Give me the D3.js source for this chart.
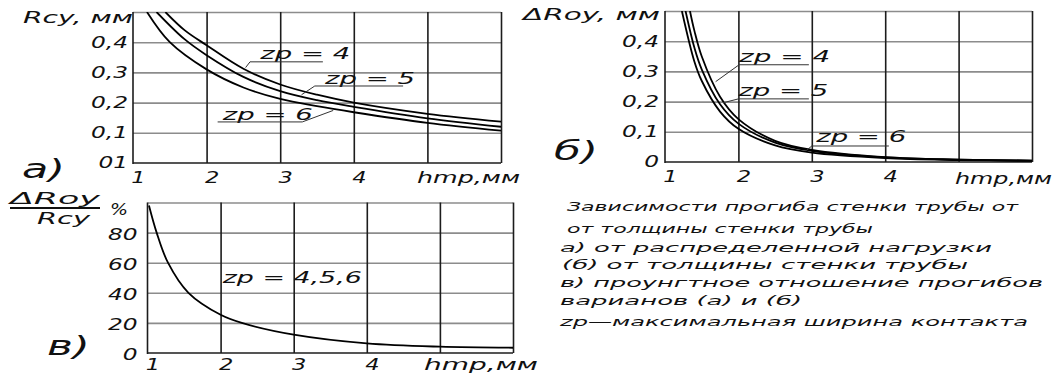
<!DOCTYPE html>
<html>
<head>
<meta charset="utf-8">
<script src="https://cdn.jsdelivr.net/npm/d3@7"></script>
<style>
  body { margin: 0; background: #fff; }
  svg text { font-family: "DejaVu Sans", sans-serif; font-style: italic; fill: #111; }
  .vgrid line, .frame { stroke: #1c1c1c; stroke-width: 1.6; }
  .hgrid line { stroke: #8c8c8c; stroke-width: 1.6; }
  .domain { display: none; }
  .curve { fill: none; stroke: #000; stroke-width: 1.8; }
  .lead { fill: none; stroke: #333; stroke-width: 1; }
</style>
</head>
<body>
<svg id="chart" width="1054" height="374"></svg>
<script>
// wall thickness ticks and labels
const hTicks = [1, 2, 3, 4]
const hGrid = [2, 3, 4, 5, 6]
const mmTicks = [0, 0.1, 0.2, 0.3, 0.4]
const mmLabels = ['01', '0,1', '0,2', '0,3', '0,4']
const mmLabelsB = ['0', '0,1', '0,2', '0,3', '0,4']
const mmGrid = [0.1, 0.2, 0.3, 0.4, 0.5]
const pctTicks = [0, 20, 40, 60, 80]
const pctGrid = [20, 40, 60, 80, 100]

// a) Rcy, mm
const hA4 = [1.44, 1.7, 2, 2.5, 3, 3.5, 4, 5, 6]
const rcy4 = [0.5, 0.44, 0.39, 0.312, 0.26, 0.226, 0.2, 0.163, 0.137]
const hA5 = [1.32, 1.7, 2, 2.5, 3, 3.5, 4, 5, 6]
const rcy5 = [0.5, 0.41, 0.357, 0.285, 0.238, 0.208, 0.186, 0.148, 0.12]
const hA6 = [1.19, 1.5, 2, 2.5, 3, 3.5, 4, 5, 6]
const rcy6 = [0.5, 0.4, 0.31, 0.25, 0.212, 0.188, 0.168, 0.133, 0.107]

// б) ΔRoy, mm
const hB4 = [1.34, 1.4, 1.5, 1.75, 2, 2.5, 3, 4, 5, 6]
const roy4 = [0.5, 0.435, 0.35, 0.216, 0.142, 0.07, 0.04, 0.016, 0.008, 0.0045]
const hB5 = [1.28, 1.4, 1.5, 1.75, 2, 2.5, 3, 4, 5, 6]
const roy5 = [0.5, 0.379, 0.307, 0.191, 0.127, 0.064, 0.037, 0.015, 0.0076, 0.0043]
const hB6 = [1.23, 1.4, 1.5, 1.75, 2, 2.5, 3, 4, 5, 6]
const roy6 = [0.5, 0.333, 0.269, 0.167, 0.11, 0.055, 0.031, 0.013, 0.0065, 0.0036]

// в) ΔRoy / Rcy, %
const hC = [1.02, 1.125, 1.28, 1.56, 2, 2.29, 3, 4, 5, 6]
const ratio = [98, 80, 60, 40, 25.4, 20, 12.2, 6.4, 4.2, 3.5]

const captionLines = [
    'Зависимости прогиба стенки трубы от',
    'от толщины стенки трубы',
    'а) от распределенной нагрузки',
    '(б) от толщины стенки трубы',
    'в) проунгтное отношение прогибов',
    'варианов (а) и (б)',
    'zp—максимальная ширина контакта'
]

const svg = d3.select('#chart')

// make text wide like the drafting font
function fit(sel, len) {
    sel.attr('textLength', len).attr('lengthAdjust', 'spacingAndGlyphs')
}
function stretch(sel, k) {
    sel.each(function () {
        const w = this.getComputedTextLength()
        d3.select(this).attr('textLength', w * k).attr('lengthAdjust', 'spacingAndGlyphs')
    })
}
function label(g, txt, x, y, size, len, anchor) {
    const t = g.append('text').attr('x', x).attr('y', y)
        .style('font-size', size + 'px').attr('text-anchor', anchor || 'start').text(txt)
    if (len) fit(t, len)
    return t
}

function panel(cfg) {
    const x = d3.scaleLinear().domain([1, 6]).range(cfg.xr)
    const y = d3.scaleLinear().domain(cfg.yd).range(cfg.yr)
    const w = cfg.xr[1] - cfg.xr[0], h = cfg.yr[0] - cfg.yr[1]
    const g = svg.append('g')

    g.append('g').attr('class', 'hgrid')
        .attr('transform', `translate(${cfg.xr[0]},0)`)
        .call(d3.axisLeft(y).tickValues(cfg.grid).tickSize(-w).tickFormat(''))

    g.append('g').attr('class', 'vgrid')
        .attr('transform', `translate(0,${cfg.yr[0]})`)
        .call(d3.axisBottom(x).tickValues(hGrid).tickSize(h).tickFormat(''))
        .selectAll('line').attr('y2', -h)

    g.append('line').attr('class', 'frame')
        .attr('x1', x(1)).attr('x2', x(1)).attr('y1', y(cfg.yd[0]) + 1).attr('y2', y(cfg.yd[1]))
    g.append('line').attr('class', 'frame')
        .attr('x1', x(1)).attr('x2', x(6)).attr('y1', y(cfg.yd[0])).attr('y2', y(cfg.yd[0]))

    const xa = g.append('g').attr('transform', `translate(0,${cfg.yr[0]})`)
        .call(d3.axisBottom(x).tickValues(hTicks).tickSize(0).tickPadding(cfg.padX).tickFormat(d3.format('d')))
    xa.selectAll('text').attr('dx', 5).style('font-size', '15px')
    stretch(xa.selectAll('text'), 1.5)

    const ya = g.append('g').attr('transform', `translate(${cfg.xr[0]},0)`)
        .call(d3.axisLeft(y).tickValues(cfg.ticks).tickSize(0).tickPadding(cfg.padY)
            .tickFormat((d, i) => cfg.tickText[i]))
    ya.selectAll('text').style('font-size', '15px').attr('dy', cfg.tickDy || '0.32em')
    stretch(ya.selectAll('text'), 1.55)

    const clipId = 'clip' + cfg.id
    svg.append('clipPath').attr('id', clipId)
        .append('rect').attr('x', cfg.xr[0]).attr('y', cfg.yr[1]).attr('width', w).attr('height', h)

    const line = d3.line().x(d => x(d[0])).y(d => y(d[1])).curve(d3.curveCatmullRom.alpha(0.5))
    g.append('g').attr('clip-path', `url(#${clipId})`)
        .selectAll('path').data(cfg.series).join('path')
        .attr('class', 'curve')
        .attr('d', s => line(d3.zip(s.h, s.v)))

    // zp labels with underline and leader
    cfg.notes.forEach(n => {
        label(g, n.text, x(n.tx), y(n.ty), 16, n.len)
        if (n.ux) {
            g.append('line').attr('class', 'lead')
                .attr('x1', x(n.ux[0])).attr('x2', x(n.ux[1]))
                .attr('y1', y(n.uy)).attr('y2', y(n.uy))
            g.append('line').attr('class', 'lead')
                .attr('x1', x(n.lf[0])).attr('y1', y(n.lf[1]))
                .attr('x2', x(n.lt[0])).attr('y2', y(n.lt[1]))
        }
    })
    return { x, y, g }
}

panel({
    id: 'a', xr: [133, 501], yr: [163, 12], yd: [0, 0.5],
    grid: mmGrid, ticks: mmTicks, tickText: mmLabels, padX: 9, padY: 5,
    series: [{ h: hA4, v: rcy4 }, { h: hA5, v: rcy5 }, { h: hA6, v: rcy6 }],
    notes: [
        { text: 'zp = 4', tx: 2.73, ty: 0.345, len: 90, ux: [2.59, 3.58], uy: 0.335, lf: [2.59, 0.335], lt: [2.53, 0.316] },
        { text: 'zp = 5', tx: 3.61, ty: 0.262, len: 90, ux: [3.47, 4.67], uy: 0.255, lf: [3.47, 0.255], lt: [3.29, 0.226] },
        { text: 'zp = 6', tx: 2.22, ty: 0.142, len: 90, ux: [2.15, 3.3], uy: 0.136, lf: [3.3, 0.136], lt: [3.72, 0.174] }
    ]
})

panel({
    id: 'b', xr: [665, 1032], yr: [162, 11], yd: [0, 0.5],
    grid: mmGrid, ticks: mmTicks, tickText: mmLabelsB, padX: 9, padY: 6,
    series: [{ h: hB4, v: roy4 }, { h: hB5, v: roy5 }, { h: hB6, v: roy6 }],
    notes: [
        { text: 'zp = 4', tx: 2.01, ty: 0.332, len: 91, ux: [2.01, 2.96], uy: 0.322, lf: [2.01, 0.322], lt: [1.69, 0.266] },
        { text: 'zp = 5', tx: 2.0, ty: 0.219, len: 90, ux: [2.0, 2.96], uy: 0.209, lf: [2.0, 0.209], lt: [1.79, 0.196] },
        { text: 'zp = 6', tx: 3.06, ty: 0.066, len: 90, ux: [3.0, 4.05], uy: 0.053, lf: [3.0, 0.053], lt: [2.92, 0.037] }
    ]
})

panel({
    id: 'c', xr: [147.5, 513], yr: [353, 202.5], yd: [0, 100],
    grid: pctGrid, ticks: pctTicks, tickText: pctTicks.map(String), padX: 6, padY: 10, tickDy: '0.45em',
    series: [{ h: hC, v: ratio }],
    notes: [{ text: 'zp = 4,5,6', tx: 2.03, ty: 46.5, len: 139 }]
})

// axis titles
label(svg, 'Rcy, мм', 23, 23, 15, 110)
label(svg, 'hmp,мм', 417, 183, 15, 103)
label(svg, 'ΔRoy, мм', 523, 20, 15, 137)
label(svg, 'hmp,мм', 955, 184, 15, 97)
label(svg, 'ΔRoy', 10, 204, 15, 90)
svg.append('line').attr('x1', 10).attr('x2', 100).attr('y1', 208).attr('y2', 208)
    .attr('stroke', '#111').attr('stroke-width', 2)
label(svg, 'Rcy', 37, 224, 15, 53)
label(svg, '%', 110, 215, 15, 18)
label(svg, 'hmp,мм', 424, 370, 15, 114)

// panel letters
label(svg, 'а)', 22, 178, 26, 43)
label(svg, 'б)', 554, 160, 26, 44)
label(svg, 'в)', 47, 355, 26, 43)

// caption
const capX = [567, 567, 560, 562, 560, 560, 560]
const capEnd = [1018, 873, 992, 968, 1043, 802, 1028]
const capY = [211, 233, 252, 269, 287, 305, 326]
svg.append('g').selectAll('text').data(captionLines).join('text')
    .attr('x', (d, i) => capX[i]).attr('y', (d, i) => capY[i])
    .style('font-size', '13px')
    .attr('textLength', (d, i) => capEnd[i] - capX[i])
    .attr('lengthAdjust', 'spacingAndGlyphs')
    .text(d => d)
</script>
</body>
</html>
